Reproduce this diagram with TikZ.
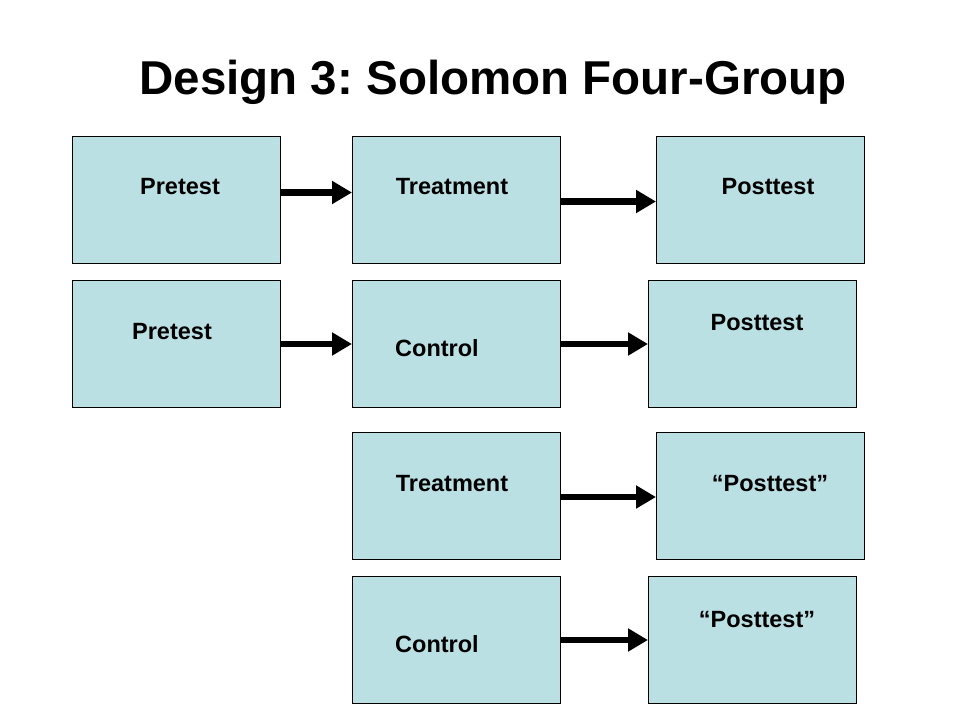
\documentclass[tikz,border=0pt]{standalone}
\usepackage{fontspec}
\setmainfont{Liberation Sans}
\usetikzlibrary{arrows.meta}
\definecolor{boxfill}{RGB}{187,224,228}
\frenchspacing
\begin{document}
\begin{tikzpicture}[x=1pt,y=-1pt,
  box/.style={draw=black,line width=1pt,fill=boxfill,minimum width=208pt,minimum height=127pt,inner sep=0pt,anchor=north west},
  lbl/.style={font=\bfseries\fontsize{23.5}{26}\selectfont,inner sep=0pt},
  fat/.style={line width=6.5pt,-{Triangle[length=20pt,width=22pt]}}]
\useasboundingbox[fill=white] (0,0) rectangle (960,720);
\node[font=\bfseries\fontsize{47.5}{52}\selectfont,inner sep=0pt] (title) at (493,82) {Design 3: Solomon Four-Group};
% row 1
\node[box] (p1) at (72,136) {};
\node[box] (t1) at (352,136) {};
\node[box] (q1) at (656,136) {};
% row 2
\node[box] (p2) at (72,280) {};
\node[box] (c2) at (352,280) {};
\node[box] (q2) at (648,280) {};
% row 3
\node[box] (t3) at (352,432) {};
\node[box] (q3) at (656,432) {};
% row 4
\node[box] (c4) at (352,576) {};
\node[box] (q4) at (648,576) {};
% labels
\node[lbl] (lp1) at (180,187) {Pretest};
\node[lbl] (lt1) at (452,187) {Treatment};
\node[lbl] (lq1) at (768,187) {Posttest};
\node[lbl] (lp2) at (172,332) {Pretest};
\node[lbl] (lc2) at (437,348) {Control};
\node[lbl] (lq2) at (757,323) {Posttest};
\node[lbl] (lt3) at (452,484) {Treatment};
\node[lbl] (lq3) at (770,484) {``Posttest''};
\node[lbl] (lc4) at (437,644) {Control};
\node[lbl] (lq4) at (757,620) {``Posttest''};
% arrows
\draw[fat] ([yshift=7.5pt]p1.east) -- ([yshift=7.5pt]t1.west);
\draw[fat] ([yshift=-1.5pt]t1.east) -- ([yshift=-1.5pt]q1.west);
\draw[fat] ([yshift=0pt]p2.east) -- ([yshift=0pt]c2.west);
\draw[fat] ([yshift=0pt]c2.east) -- ([yshift=0pt]q2.west);
\draw[fat] ([yshift=-1pt]t3.east) -- ([yshift=-1pt]q3.west);
\draw[fat] ([yshift=0pt]c4.east) -- ([yshift=0pt]q4.west);
\end{tikzpicture}
\end{document}
